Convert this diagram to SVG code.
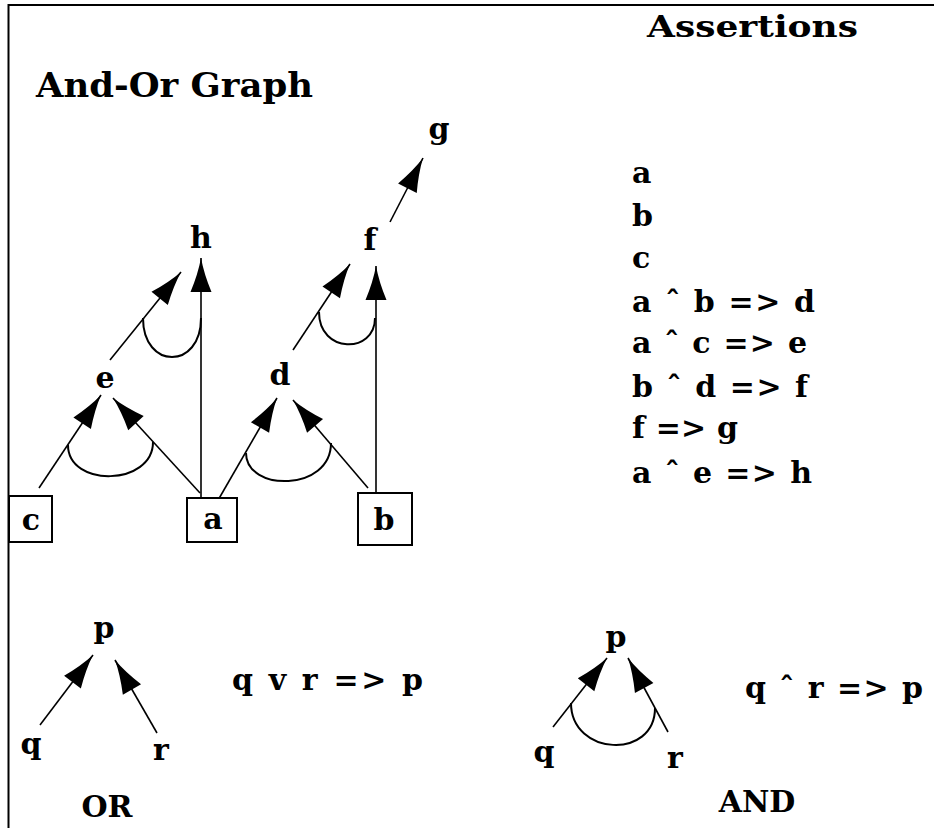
<svg xmlns="http://www.w3.org/2000/svg" width="934" height="828" viewBox="0 0 934 828">
<style>
text{font-family:"DejaVu Serif","Liberation Serif",serif;font-weight:bold;fill:#000}
.lbl{font-size:30px;text-anchor:middle}
.as{font-size:30px}
.edge{stroke:#000;stroke-width:1.6;fill:none}
.and{stroke:#000;stroke-width:2;fill:none}
.box{fill:#fff;stroke:#000;stroke-width:2}
</style>
<defs>
<marker id="ah" markerUnits="userSpaceOnUse" viewBox="-36 -12 38 24" refX="0" refY="0" markerWidth="38" markerHeight="24" orient="auto">
<path d="M0,0 Q-16,-3 -34,-10.5 L-34,10.5 Q-16,3 0,0 Z" fill="#000"/>
</marker>
</defs>
<rect width="934" height="828" fill="#fff"/>
<path d="M8.5,828 V5 H934" fill="none" stroke="#000" stroke-width="2"/>
<text x="36" y="97" font-size="34" textLength="277" lengthAdjust="spacingAndGlyphs">And-Or Graph</text>
<text x="647" y="37" font-size="30" textLength="211" lengthAdjust="spacingAndGlyphs">Assertions</text>
<g id="assertions">
<text class="as" x="632" y="183">a</text>
<text class="as" x="632" y="226">b</text>
<text class="as" x="632" y="268">c</text>
<text class="as" x="632" y="312" textLength="183" lengthAdjust="spacing">a ˆ b =&gt; d</text>
<text class="as" x="632" y="353" textLength="175" lengthAdjust="spacing">a ˆ c =&gt; e</text>
<text class="as" x="632" y="397" textLength="176" lengthAdjust="spacing">b ˆ d =&gt; f</text>
<text class="as" x="632" y="438" textLength="106" lengthAdjust="spacing">f =&gt; g</text>
<text class="as" x="632" y="483" textLength="180" lengthAdjust="spacing">a ˆ e =&gt; h</text>
</g>
<g id="connectors">
<line class="edge" x1="390" y1="222" x2="423" y2="158" marker-end="url(#ah)"/>
<line class="edge" x1="110" y1="360" x2="181" y2="272" marker-end="url(#ah)"/>
<line class="edge" x1="201" y1="498" x2="201" y2="258" marker-end="url(#ah)"/>
<line class="edge" x1="293" y1="350" x2="350" y2="264" marker-end="url(#ah)"/>
<line class="edge" x1="376" y1="493" x2="376" y2="266" marker-end="url(#ah)"/>
<line class="edge" x1="39" y1="488" x2="101" y2="395" marker-end="url(#ah)"/>
<line class="edge" x1="200" y1="493" x2="113" y2="398" marker-end="url(#ah)"/>
<line class="edge" x1="217" y1="502" x2="277" y2="398" marker-end="url(#ah)"/>
<line class="edge" x1="368" y1="488" x2="293" y2="400" marker-end="url(#ah)"/>
<line class="edge" x1="40" y1="725" x2="93" y2="655" marker-end="url(#ah)"/>
<line class="edge" x1="157" y1="733" x2="115" y2="660" marker-end="url(#ah)"/>
<line class="edge" x1="553" y1="727" x2="607" y2="658" marker-end="url(#ah)"/>
<line class="edge" x1="668" y1="732" x2="628" y2="658" marker-end="url(#ah)"/>
<path class="and" d="M143,318 C143,370 201,370 201,318"/>
<path class="and" d="M319,312 C319,354 375,354 375,318"/>
<path class="and" d="M68,445 C68,488 153,486 153,442"/>
<path class="and" d="M246,453 C246,492 331,492 331,443"/>
<path class="and" d="M571,703 C571,756 655,760 655,708"/>
</g>
<g id="node-g"><text class="lbl" x="439" y="139">g</text></g>
<g id="node-h"><text class="lbl" x="201" y="248">h</text></g>
<g id="node-f"><text class="lbl" x="370" y="250">f</text></g>
<g id="node-e"><text class="lbl" x="105" y="388">e</text></g>
<g id="node-d"><text class="lbl" x="280" y="385">d</text></g>
<g id="node-c"><rect class="box" x="9" y="496" width="43" height="46"/><text class="lbl" x="31" y="530">c</text></g>
<g id="node-a"><rect class="box" x="187" y="498" width="50" height="44"/><text class="lbl" x="213" y="529">a</text></g>
<g id="node-b"><rect class="box" x="358" y="493" width="54" height="52"/><text class="lbl" x="384" y="530">b</text></g>
<g id="or-p"><text class="lbl" x="104" y="638">p</text></g>
<g id="or-q"><text class="lbl" x="31" y="754">q</text></g>
<g id="or-r"><text class="lbl" x="161" y="760">r</text></g>
<text class="lbl" x="107" y="817" font-size="31">OR</text>
<text class="as" x="232" y="690" textLength="191" lengthAdjust="spacing">q v r =&gt; p</text>
<g id="and-p"><text class="lbl" x="616" y="647">p</text></g>
<g id="and-q"><text class="lbl" x="544" y="762">q</text></g>
<g id="and-r"><text class="lbl" x="675" y="768">r</text></g>
<text class="lbl" x="757" y="812" font-size="31">AND</text>
<text class="as" x="745" y="698" textLength="178" lengthAdjust="spacing">q ˆ r =&gt; p</text>
</svg>
